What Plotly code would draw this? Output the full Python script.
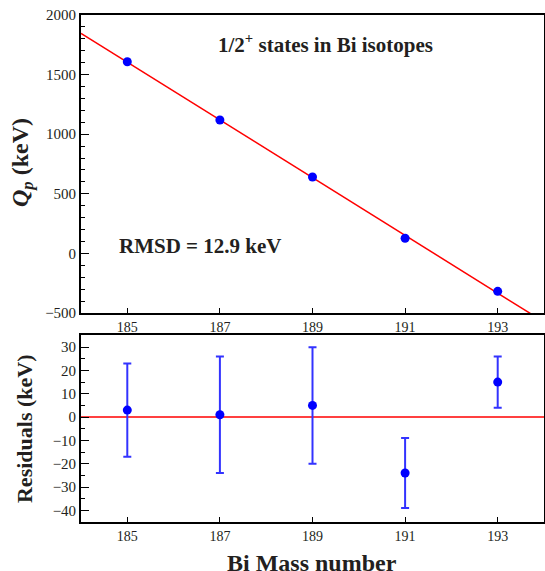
import plotly.graph_objects as go

# Data
mass = [185, 187, 189, 191, 193]
qp_kev = [1608, 1119, 641, 127, -318]
fit_x = [184, 194]
fit_q = [1846, -575]
residuals = [3, 1, 5, -24, 15]
res_err = [20, 25, 25, 15, 11]
x_ticks = [185, 187, 189, 191, 193]

TXT = "#231f20"
FONT = "Liberation Serif"

fig = go.Figure()

fig.add_trace(go.Scatter(x=fit_x, y=fit_q, mode="lines",
                         line=dict(color="#ff0000", width=1.5),
                         xaxis="x", yaxis="y", showlegend=False))
fig.add_trace(go.Scatter(x=mass, y=qp_kev, mode="markers",
                         marker=dict(color="#0000ff", size=9),
                         xaxis="x", yaxis="y", showlegend=False))

fig.add_trace(go.Scatter(x=fit_x, y=[0, 0], mode="lines",
                         line=dict(color="#ff0000", width=1.5),
                         xaxis="x2", yaxis="y2", showlegend=False))
fig.add_trace(go.Scatter(x=mass, y=residuals, mode="markers",
                         marker=dict(color="#0000ff", size=9),
                         error_y=dict(type="data", array=res_err, visible=True,
                                      color="#3333ff", thickness=2, width=4),
                         xaxis="x2", yaxis="y2", showlegend=False))

def ax(**kw):
    d = dict(showline=True, linecolor="black", linewidth=1.8, mirror=True,
             showgrid=False, zeroline=False, automargin=False,
             tickcolor="black")
    d.update(kw)
    return d

xfont = dict(family=FONT, size=14, color=TXT)
yfont = dict(family=FONT, size=15, color=TXT)

def note(text, x, y, size, xref="paper", yref="paper", angle=0):
    return dict(text=text, x=x, y=y, xref=xref, yref=yref, showarrow=False,
                xanchor="center", yanchor="middle", textangle=angle,
                font=dict(family=FONT, size=size, color=TXT))

fig.update_layout(
    width=545, height=571,
    margin=dict(l=81, r=1, t=15, b=49),
    paper_bgcolor="white", plot_bgcolor="white",
    font=dict(family=FONT, color=TXT),
    xaxis=ax(domain=[0, 1], anchor="y", range=[184, 194],
             tickvals=x_ticks, ticks="inside", ticklen=5, tickfont=xfont),
    yaxis=ax(domain=[0.4122, 1], anchor="x", range=[-500, 2000],
             dtick=500, ticks="inside", ticklen=8, tickfont=yfont,
             minor=dict(ticks="inside", ticklen=4, dtick=100, tickcolor="black")),
    xaxis2=ax(domain=[0, 1], anchor="y2", range=[184, 194],
              tickvals=x_ticks, ticks="inside", ticklen=5, tickfont=xfont),
    yaxis2=ax(domain=[0, 0.3679], anchor="x2", range=[-45, 35],
              dtick=10, ticks="inside", ticklen=8, tickfont=yfont,
              minor=dict(ticks="inside", ticklen=4, dtick=5, tickcolor="black")),
    annotations=[
        note("<b>1/2<sup>+</sup> states in Bi isotopes</b>", 189.27, 1765, 21,
             xref="x", yref="y"),
        note("<b>RMSD = 12.9 keV</b>", 186.57, 60, 21, xref="x", yref="y"),
        note("<b><i>Q</i><sub><i>p</i></sub> (keV)</b>", -0.1274, 0.708, 24,
             angle=-90),
        note("<b>Residuals (keV)</b>", -0.1231, 0.1834, 22, angle=-90),
        note("<b>Bi Mass number</b>", 0.4989, -0.081, 24),
    ],
)

fig.write_html("out.html",
               config={"displayModeBar": False},
               post_script="document.body.style.margin='0';"
                           "document.body.style.overflow='hidden';")
